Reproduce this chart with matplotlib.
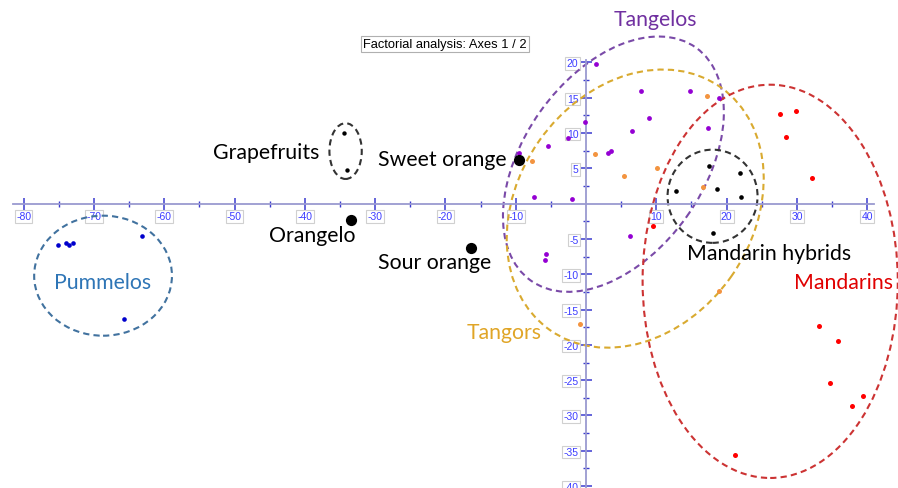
import matplotlib
matplotlib.use("Agg")
import matplotlib.pyplot as plt
from matplotlib.patches import Ellipse
import numpy as np

# ---------------- data ----------------
pummelo_x = [-75.1, -74.0, -73.6, -73.0, -63.2, -65.7]
pummelo_y = [-5.85, -5.6, -5.85, -5.6, -4.6, -16.3]

grapefruit_x = [-34.4, -34.0]
grapefruit_y = [10.0, 4.8]

single_names = ["Sweet orange", "Orangelo", "Sour orange"]
single_x = [-9.5, -33.5, -16.3]
single_y = [6.2, -2.3, -6.3]

tangelo_x = [1.4, 7.8, 14.8, 18.9, 9.0, -0.2, 6.5, -2.5, -5.4, 3.1, 3.6, -9.5,
             -7.35, -1.95, 17.4, -5.7, -5.85, 6.3]
tangelo_y = [19.8, 15.9, 16.0, 15.0, 12.1, 11.6, 10.3, 9.3, 8.1, 7.2, 7.4, 7.2,
             0.95, 0.7, 10.7, -7.1, -8.0, -4.55]

tangor_x = [1.3, -7.7, 5.4, 10.1, 17.2, 16.7, -0.9, 18.9]
tangor_y = [7.0, 6.05, 3.9, 5.05, 15.2, 2.4, -17.1, -12.3]

mandarin_x = [27.55, 29.8, 28.5, 32.1, 9.6, 33.1, 35.9, 34.7, 39.4, 37.9, 21.15]
mandarin_y = [12.7, 13.1, 9.5, 3.6, -3.2, -17.3, -19.5, -25.4, -27.2, -28.7, -35.6]

hybrid_x = [12.8, 17.5, 21.9, 18.6, 22.05, 18.0]
hybrid_y = [1.85, 5.4, 4.3, 2.1, 0.9, -4.2]

# group ellipses: centre x, centre y, width, height, angle
ell_names = ["Pummelos", "Grapefruits", "Tangelos", "Tangors", "Mandarins", "Mandarin hybrids"]
ell_cx = [-68.7, -34.2, 3.9, 7.0, 26.2, 18.0]
ell_cy = [-10.2, 7.45, 5.6, -0.7, -11.0, 1.05]
ell_w = [19.6, 4.6, 40.5, 42.1, 36.3, 12.8]
ell_h = [17.0, 7.9, 25.6, 33.4, 55.7, 13.2]
ell_ang = [0, 0, 54.5, 54.6, 0, 0]

x_ticks = [-80, -70, -60, -50, -40, -30, -20, -10, 10, 20, 30, 40]
y_ticks = [20, 15, 10, 5, -5, -10, -15, -20, -25, -30, -35, -40]

title = "Factorial analysis: Axes 1 / 2"

# ---------------- figure ----------------
fig = plt.figure(figsize=(8.98, 4.89), dpi=100)
ax = fig.add_axes([0, 0, 1, 1])
ax.set_xlim(-83.36, 44.38)
ax.set_ylim(-40.27, 28.99)

axis_col = "#9a9ad0"
tick_col = "#3a3ad0"
for s in ["top", "right"]:
    ax.spines[s].set_visible(False)
ax.spines["left"].set_position(("data", 0))
ax.spines["bottom"].set_position(("data", 0))
ax.spines["left"].set_bounds(-40.4, 20.3)
ax.spines["bottom"].set_bounds(-81.5, 41.0)
for s in ["left", "bottom"]:
    ax.spines[s].set_color(axis_col)
    ax.spines[s].set_linewidth(1.3)

ax.set_xticks(x_ticks)
ax.set_yticks(y_ticks)
ax.set_xticks([v for v in np.arange(-75, 41, 5) if v % 10 != 0], minor=True)
ax.set_yticks([v for v in np.arange(-37.5, 21, 2.5) if v % 5 != 0], minor=True)
ax.set_xticklabels([str(v) for v in x_ticks])
ax.set_yticklabels([str(v) for v in y_ticks])
ax.tick_params(which="major", direction="inout", length=8, width=1.1, color=tick_col,
               labelsize=7.5, labelcolor="#3c3cff", pad=1.5)
ax.tick_params(which="minor", direction="inout", length=4, width=1.0, color=tick_col)
for lbl in ax.get_xticklabels() + ax.get_yticklabels():
    lbl.set_fontfamily("Liberation Sans")
    lbl.set_bbox(dict(boxstyle="square,pad=0.12", facecolor="white", edgecolor="#d0d0d0", linewidth=0.8))

# ellipses
ell_cols = ["#41729f", "#333333", "#7a4aa8", "#d9aa30", "#cc3333", "#333333"]
for cx, cy, w, h, a, c in zip(ell_cx, ell_cy, ell_w, ell_h, ell_ang, ell_cols):
    ax.add_patch(Ellipse((cx, cy), w, h, angle=a, fill=False, edgecolor=c,
                         linewidth=1.5, linestyle=(0, (3, 2)), zorder=2))

# points
ax.scatter(pummelo_x, pummelo_y, s=11, color="#0000cc", zorder=3, linewidths=0)
ax.scatter(grapefruit_x, grapefruit_y, s=10, color="black", zorder=3, linewidths=0)
ax.scatter(tangelo_x, tangelo_y, s=12, color="#9400d3", zorder=3, linewidths=0)
ax.scatter(tangor_x, tangor_y, s=13, color="#f39440", zorder=3, linewidths=0)
ax.scatter(mandarin_x, mandarin_y, s=13, color="#ff0000", zorder=3, linewidths=0)
ax.scatter(hybrid_x, hybrid_y, s=11, color="black", zorder=3, linewidths=0)
ax.scatter(single_x, single_y, s=65, color="black", zorder=4, linewidths=0)

# labels
lab_font = "Lato"
fs = 15.3
ax.text(-68.7, -11.1, "Pummelos", color="#2e75b6", fontsize=fs, family=lab_font, ha="center", va="center")
ax.text(-45.5, 7.3, "Grapefruits", color="black", fontsize=fs, family=lab_font, ha="center", va="center")
ax.text(-20.4, 6.3, "Sweet orange", color="black", fontsize=fs, family=lab_font, ha="center", va="center")
ax.text(-38.9, -4.4, "Orangelo", color="black", fontsize=fs, family=lab_font, ha="center", va="center")
ax.text(-21.5, -8.3, "Sour orange", color="black", fontsize=fs, family=lab_font, ha="center", va="center")
ax.text(26.0, -7.0, "Mandarin hybrids", color="black", fontsize=fs, family=lab_font, ha="center", va="center")
ax.text(36.6, -11.1, "Mandarins", color="#e00000", fontsize=fs, family=lab_font, ha="center", va="center")
ax.text(9.9, 26.2, "Tangelos", color="#7030a0", fontsize=fs, family=lab_font, ha="center", va="center")
ax.text(-11.7, -18.2, "Tangors", color="#e0a526", fontsize=fs, family=lab_font, ha="center", va="center")

ax.text(-20.06, 22.6, title, fontsize=9.3, family="Liberation Sans", color="black",
        ha="center", va="center",
        bbox=dict(boxstyle="square,pad=0.15", facecolor="white", edgecolor="#b0b0b0", linewidth=0.8))

fig.savefig("out.png", dpi=100)
